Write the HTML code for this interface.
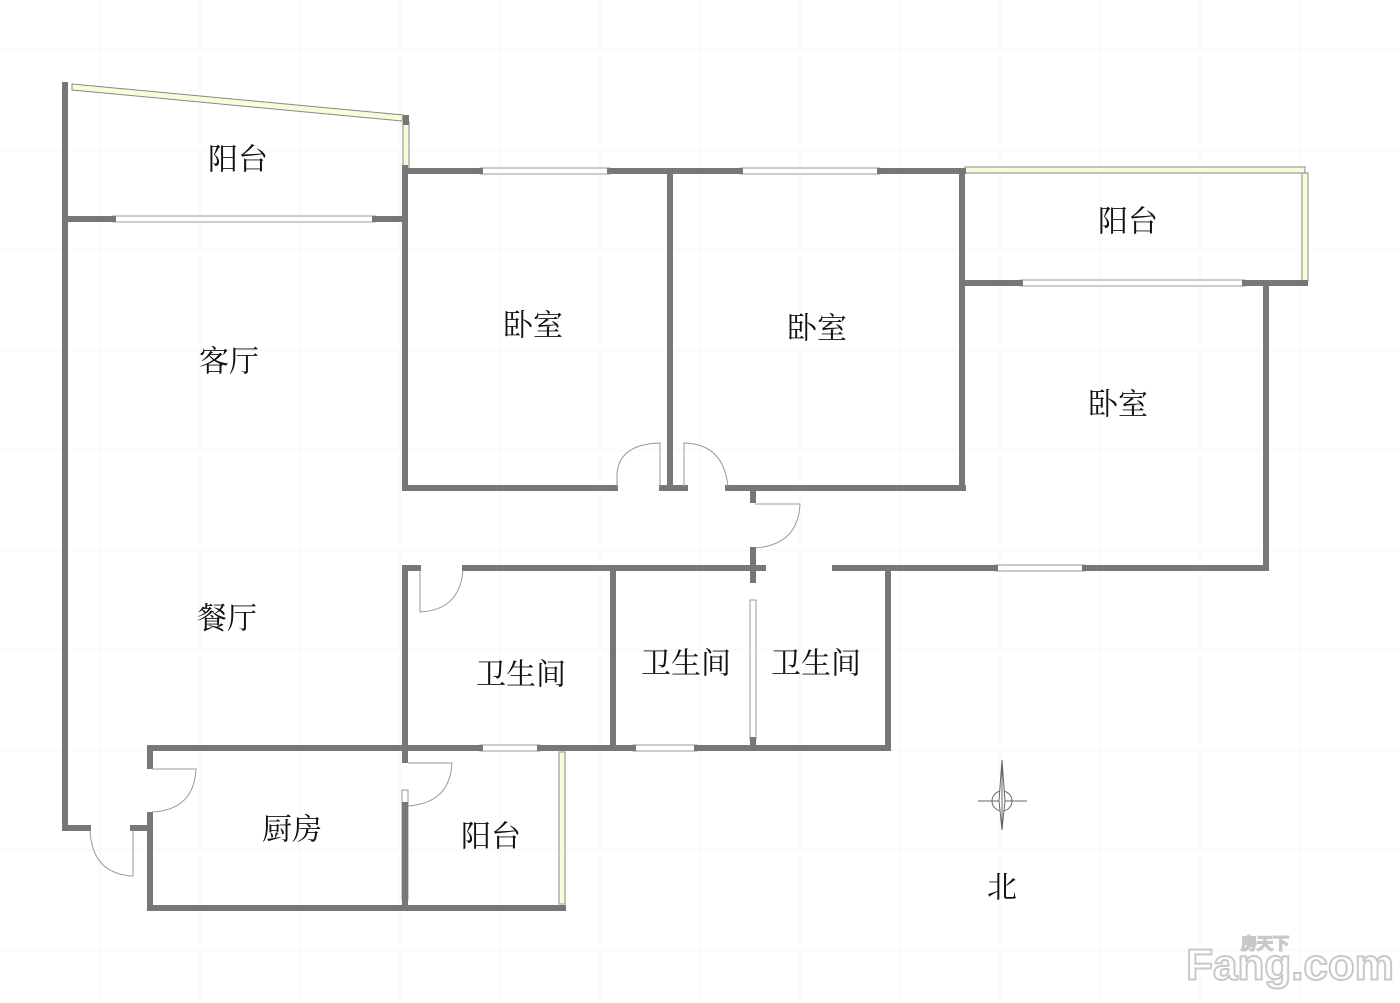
<!DOCTYPE html>
<html><head><meta charset="utf-8"><style>
html,body{margin:0;padding:0;background:#fff}
svg{display:block}
text{font-family:"Liberation Serif","Noto Serif CJK SC",serif;font-size:30px;fill:#111;text-anchor:middle;dominant-baseline:central}
</style></head><body>
<svg width="1400" height="1003" viewBox="0 0 1400 1003" xmlns="http://www.w3.org/2000/svg">
<g stroke="#f6f6f6" stroke-width="1">
<line x1="0" y1="50" x2="1400" y2="50"/><line x1="0" y1="150" x2="1400" y2="150"/><line x1="0" y1="250" x2="1400" y2="250"/><line x1="0" y1="350" x2="1400" y2="350"/><line x1="0" y1="450" x2="1400" y2="450"/><line x1="0" y1="550" x2="1400" y2="550"/><line x1="0" y1="650" x2="1400" y2="650"/><line x1="0" y1="750" x2="1400" y2="750"/><line x1="0" y1="850" x2="1400" y2="850"/><line x1="0" y1="950" x2="1400" y2="950"/>
<line x1="100" y1="0" x2="100" y2="1003"/><line x1="200" y1="0" x2="200" y2="1003"/><line x1="300" y1="0" x2="300" y2="1003"/><line x1="400" y1="0" x2="400" y2="1003"/><line x1="500" y1="0" x2="500" y2="1003"/><line x1="600" y1="0" x2="600" y2="1003"/><line x1="700" y1="0" x2="700" y2="1003"/><line x1="800" y1="0" x2="800" y2="1003"/><line x1="900" y1="0" x2="900" y2="1003"/><line x1="1000" y1="0" x2="1000" y2="1003"/><line x1="1100" y1="0" x2="1100" y2="1003"/><line x1="1200" y1="0" x2="1200" y2="1003"/><line x1="1300" y1="0" x2="1300" y2="1003"/>
</g>
<g fill="#fbfbd9" stroke="#888" stroke-width="1">
<polygon points="72,84 403,115 402,121 72,90"/>
<rect x="403" y="122" width="6" height="46"/>
<rect x="965" y="167" width="340" height="6"/>
<rect x="1302" y="173" width="6" height="108"/>
<rect x="559" y="752" width="6" height="152"/>
</g>
<g stroke="#999" stroke-width="1" fill="#fff">
<rect x="113" y="216" width="262" height="6"/><rect x="480" y="168" width="130" height="6"/><rect x="740" y="168" width="140" height="6"/>
<rect x="1020" y="280" width="225" height="6"/><rect x="995" y="565" width="90" height="6"/><rect x="480" y="745" width="60" height="6"/><rect x="633" y="745" width="64" height="6"/>
<rect x="750" y="600" width="6" height="140"/><rect x="402" y="790" width="6" height="110"/>
</g>
<g stroke="#777" stroke-width="6" fill="none" stroke-linecap="square">
<polyline points="65,85 65,828 88,828"/>
<line x1="133" y1="828" x2="150" y2="828"/>
<line x1="65" y1="219" x2="113" y2="219"/><line x1="375" y1="219" x2="405" y2="219"/>
<line x1="406" y1="118" x2="406" y2="122"/>
<polyline points="405,168 405,171 480,171"/><line x1="610" y1="171" x2="740" y2="171"/><line x1="880" y1="171" x2="963" y2="171"/>
<line x1="405" y1="171" x2="405" y2="488"/>
<line x1="405" y1="488" x2="615" y2="488"/><line x1="662" y1="488" x2="685" y2="488"/><line x1="728" y1="488" x2="963" y2="488"/>
<line x1="670" y1="171" x2="670" y2="488"/>
<line x1="962" y1="171" x2="962" y2="488"/>
<line x1="962" y1="283" x2="1020" y2="283"/><line x1="1245" y1="283" x2="1305" y2="283"/>
<line x1="1266" y1="283" x2="1266" y2="568"/>
<line x1="835" y1="568" x2="995" y2="568"/><line x1="1085" y1="568" x2="1266" y2="568"/>
<line x1="753" y1="488" x2="753" y2="500"/><line x1="753" y1="550" x2="753" y2="580"/><line x1="753" y1="740" x2="753" y2="748"/>
<line x1="405" y1="568" x2="418" y2="568"/><line x1="465" y1="568" x2="763" y2="568"/>
<line x1="405" y1="568" x2="405" y2="760"/><line x1="405" y1="805" x2="405" y2="908"/>
<line x1="613" y1="568" x2="613" y2="748"/>
<line x1="888" y1="568" x2="888" y2="748"/>
<line x1="150" y1="748" x2="480" y2="748"/><line x1="540" y1="748" x2="633" y2="748"/><line x1="697" y1="748" x2="888" y2="748"/>
<line x1="150" y1="748" x2="150" y2="766"/><line x1="150" y1="815" x2="150" y2="908"/>
<line x1="150" y1="908" x2="563" y2="908"/>
</g>
<g stroke="#999" stroke-width="1" fill="none">
<path d="M617,487 L617,473 Q620,444 660,443 L660,487"/>
<path d="M684,487 L684,443 Q724,444 728,487"/>
<path d="M755,504 L800,504 Q798,545 755,548"/>
<path d="M420,570 L420,612 Q460,610 463,570"/>
<path d="M152,769 L196,769 Q194,810 152,812"/>
<path d="M408,763 L452,763 Q450,803 408,806"/>
<path d="M90,830 Q92,874 133,876 L133,830"/>
</g>
<g stroke="#666" stroke-width="1" fill="none">
<circle cx="1002" cy="801" r="10"/><line x1="978" y1="801" x2="1027" y2="801"/>
<path d="M1002,760 L999,801 L1002,830 L1005,801 Z" fill="#fff"/>
<line x1="1002" y1="760" x2="1002" y2="830"/>
</g>
<text x="238" y="160">阳台</text>
<text x="533" y="326">卧室</text>
<text x="817" y="329">卧室</text>
<text x="1118" y="405">卧室</text>
<text x="1128" y="222">阳台</text>
<text x="229" y="362">客厅</text>
<text x="227" y="619">餐厅</text>
<text x="521" y="675">卫生间</text>
<text x="686" y="664">卫生间</text>
<text x="816" y="664">卫生间</text>
<text x="292" y="830">厨房</text>
<text x="491" y="837">阳台</text>
<text x="1002" y="888">北</text>
<g fill="#fff" stroke="#c8c8c8" stroke-width="2">
<text x="1290" y="965" style="font-size:44px;font-family:'Liberation Sans',sans-serif;font-weight:bold;fill:#fff">Fang.com</text>
<text x="1265" y="942" style="font-size:16px;font-family:'Noto Sans CJK SC',sans-serif;fill:#fff">房天下</text>
</g>
</svg>
</body></html>
